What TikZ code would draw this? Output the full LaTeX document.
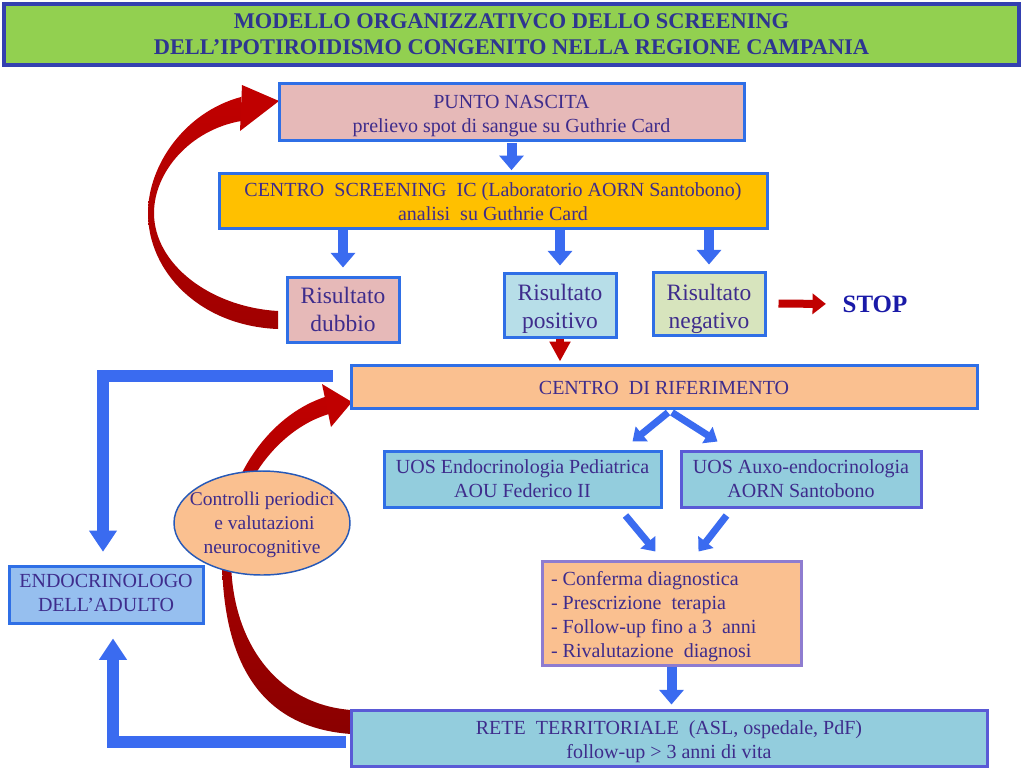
\documentclass[tikz,border=0pt]{standalone}
\usepackage{fontspec}
\setmainfont{Liberation Serif}
\usetikzlibrary{arrows.meta,shapes.geometric,calc}
\definecolor{ablue}{HTML}{3A6BF0}
\definecolor{bblue}{HTML}{2F6FE6}
\definecolor{pblue}{HTML}{5A5AD6}
\definecolor{lpurp}{HTML}{8E7CD0}
\definecolor{tblue}{HTML}{3440B0}
\definecolor{txt}{HTML}{3E2C8C}
\definecolor{ttl}{HTML}{2E3590}
\definecolor{stopc}{HTML}{1A1AA8}
\definecolor{gfill}{HTML}{92D050}
\definecolor{pink}{HTML}{E6B9B8}
\definecolor{amber}{HTML}{FFC000}
\definecolor{lblue}{HTML}{B7DEE8}
\definecolor{olive}{HTML}{D7E4BD}
\definecolor{peach}{HTML}{FAC090}
\definecolor{teal}{HTML}{93CDDD}
\definecolor{sky}{HTML}{96BFEF}
\definecolor{redA}{HTML}{C00000}
\definecolor{redB}{HTML}{A00000}
\definecolor{redC}{HTML}{8A0000}
\newcommand\tx[2][2.25pt]{\raisebox{-#1}[\height][\depth]{\begin{tabular}{@{}c@{}}#2\end{tabular}}}
\begin{document}
\begin{tikzpicture}[x=0.75pt,y=-0.75pt,
  box/.style={draw=bblue, line width=2.25pt, text=txt, align=center, inner sep=0pt,
    font=\fontsize{15}{18}\selectfont},
  res/.style={box, font=\fontsize{17.6}{21}\selectfont},
  wh/.style 2 args={minimum width={#1*0.75pt}, minimum height={#2*0.75pt}},
  bluearr/.style={draw=ablue, line width=7.5pt, -{Triangle[width=18pt,length=11pt]}},
  bluethin/.style={draw=ablue, line width=5.25pt, -{Triangle[width=14pt,length=9pt]}},
  bigL/.style={draw=ablue, line width=9pt, -{Triangle[width=20pt,length=16pt]}},
  redarr/.style={draw=redA, line width=6pt, -{Triangle[width=15pt,length=10pt]}}
]
\useasboundingbox (0,0) rectangle (1024,775);
\fill[white] (0,0) rectangle (1024,775);

% curved red arrows (shapes)
\shade[top color=redA, bottom color=redB]
  (241,97) .. controls (185,112) and (148,165) .. (148,213)
  .. controls (148,272) and (200,326) .. (278,329) -- (278,311)
  .. controls (210,307) and (154,264) .. (154,213)
  .. controls (154,172) and (190,130) .. (241,121) -- cycle;
\fill[redA] (242,85) -- (279,101) -- (240,131) -- cycle;

\shade[top color=redA, bottom color=redC]
  (328,396) .. controls (268,414) and (222,482) .. (222,555)
  .. controls (222,650) and (252,727) .. (351,734) -- (351,710)
  .. controls (275,704) and (231,640) .. (231,558)
  .. controls (231,492) and (275,430) .. (329,414) -- cycle;
\fill[redA] (322,384) -- (352,402) -- (331,427) -- cycle;

% title
\node[draw=tblue, line width=2.6pt, fill=gfill, wh={1015}{61}, inner sep=0pt, align=center,
  text=ttl, font=\bfseries\fontsize{16.8}{19.5}\selectfont] (title) at (511.5,34.5)
  {\tx[1.5pt]{MODELLO ORGANIZZATIVCO DELLO SCREENING\\DELL’IPOTIROIDISMO CONGENITO NELLA REGIONE CAMPANIA}};

% boxes
\node[box, fill=pink, wh={465}{57}] (punto) at (511.5,111.5)
  {\tx[3pt]{PUNTO NASCITA\\prelievo spot di sangue su Guthrie Card}};
\node[box, fill=amber, wh={548}{55}] (scr) at (493,200.5)
  {\tx[2.25pt]{CENTRO\ \ SCREENING\ \ IC (Laboratorio AORN Santobono)\\analisi\ \ su Guthrie Card}};
\node[res, fill=pink, wh={112}{65}] (dub) at (343,309.5) {\tx[1.5pt]{Risultato\\dubbio}};
\node[res, fill=lblue, wh={112}{64}] (pos) at (560,305) {\tx[3pt]{Risultato\\positivo}};
\node[res, fill=olive, wh={112}{63}] (neg) at (709,303.5) {\tx[3.75pt]{Risultato\\negativo}};
\node[inner sep=0pt, text=stopc, font=\bfseries\fontsize{18.7}{22}\selectfont] (stop) at (875,304) {STOP};
\node[box, fill=peach, wh={626}{43}] (rif) at (664,386.5) {\tx[2.25pt]{CENTRO\ \ DI RIFERIMENTO}};
\node[box, fill=teal, wh={277}{56}] (uos1) at (522.5,479)
  {\tx[1.5pt]{UOS Endocrinologia Pediatrica\\AOU Federico II}};
\node[box, draw=pblue, fill=teal, wh={240}{56}] (uos2) at (801,479)
  {\tx[1.5pt]{UOS Auxo-endocrinologia\\AORN Santobono}};
\node[box, draw=lpurp, fill=peach, wh={259}{104}] (list) at (671.5,613)
  {\makebox[180.75pt][l]{\raisebox{-3pt}[\height][\depth]{\begin{tabular}{@{}l@{}}- Conferma diagnostica\\- Prescrizione\ \ terapia\\- Follow-up fino a 3\ \ anni\\- Rivalutazione\ \ diagnosi\end{tabular}}}};
\node[box, draw=pblue, fill=teal, wh={636}{56}] (rete) at (669,738)
  {\tx[2.6pt]{RETE\ \ TERRITORIALE\ \ (ASL, ospedale, PdF)\\follow-up > 3 anni di vita}};
\node[box, fill=sky, wh={194}{57}] (endo) at (106,594.5)
  {\tx[0pt]{ENDOCRINOLOGO\\DELL’ADULTO}};
\node[ellipse, draw=bblue!80!black, line width=1.1pt, fill=peach, wh={176}{104}, inner sep=0pt,
  text=txt, font=\fontsize{14.6}{18}\selectfont] (ell) at (262,523)
  {\makebox[0pt]{\tx[1pt]{Controlli periodici\\\ e valutazioni\\neurocognitive}}};

% connectors
\draw[bluearr, shorten <=1pt, shorten >=1pt] (punto.south) -- (punto.south |- scr.north);
\draw[bluearr, shorten >=6pt] (dub.north |- scr.south) -- (dub.north);
\draw[bluearr, shorten >=4.5pt] (pos.north |- scr.south) -- (pos.north);
\draw[bluearr, shorten >=4.5pt] (neg.north |- scr.south) -- (neg.north);
\draw[redarr, shorten <=9pt, shorten >=12.4pt] (neg.east) -- (stop.west);
\draw[draw=redA, line width=6pt, -{Triangle[width=15pt,length=15pt]}, shorten >=1.5pt] (pos.south) -- (pos.south |- rif.north);
\draw[bluethin] ([shift={(4,3)}]rif.south) -- ($(uos1.north east)+(-30,-8)$);
\draw[bluethin] ([shift={(8,3)}]rif.south) -- ($(uos2.north west)+(38,-8)$);
\draw[bluethin] ($(uos1.south east)+(-37,7)$) -- ($(list.north)+(-16,-8)$);
\draw[bluethin] ($(uos2.south west)+(47,7)$) -- ($(list.north)+(27,-8)$);
\draw[bluearr, shorten >=3pt] (list.south) -- (list.south |- rete.north);
\draw[bigL, shorten >=9.5pt] ([shift={(-17,-11)}]rif.west) -| ([shift={(-3,0)}]endo.north);
\draw[bigL, shorten >=10.5pt] ([shift={(-4,4)}]rete.west) -| ([shift={(7,0)}]endo.south);
\end{tikzpicture}
\end{document}
